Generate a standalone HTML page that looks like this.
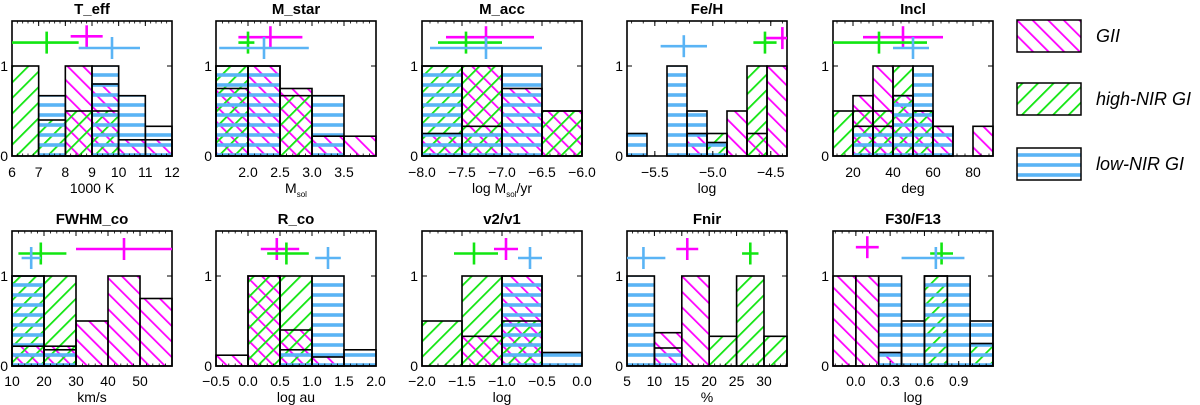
<!DOCTYPE html>
<html><head><meta charset="utf-8">
<style>
html,body{margin:0;padding:0;background:#fff;}
svg{display:block;}
text{font-family:"Liberation Sans",sans-serif;fill:#000;}
.t{font-size:15px;font-weight:bold;}
.k{font-size:14px;}
.lg{font-size:18px;font-style:italic;}
</style></head>
<body>
<svg id="chart" width="1200" height="405" viewBox="0 0 1200 405">
<defs>
<pattern id="pm" patternUnits="userSpaceOnUse" width="11" height="11" patternTransform="rotate(-45)">
<line x1="0" y1="0" x2="0" y2="11" stroke="#ff00ff" stroke-width="3.6"/></pattern>
<pattern id="pg" patternUnits="userSpaceOnUse" width="11" height="11" patternTransform="rotate(45)">
<line x1="0" y1="0" x2="0" y2="11" stroke="#11e611" stroke-width="3.6"/></pattern>
<pattern id="pb" patternUnits="userSpaceOnUse" width="10" height="10">
<line x1="0" y1="5" x2="10" y2="5" stroke="#5ab4f5" stroke-width="3.6"/></pattern>
</defs>
<g id="panels"></g>
<g>
<rect x="1017" y="20" width="64" height="32" fill="url(#pm)" stroke="#000" stroke-width="1.5"/>
<text class="lg" x="1096" y="42">GII</text>
<rect x="1017" y="83" width="64" height="32" fill="url(#pg)" stroke="#000" stroke-width="1.5"/>
<text class="lg" x="1096" y="105">high-NIR GI</text>
<rect x="1017" y="148" width="64" height="32" fill="url(#pb)" stroke="#000" stroke-width="1.5"/>
<text class="lg" x="1096" y="170">low-NIR GI</text>
</g>
</svg>
<script>
// panel order: teff, mstar, macc, feh, incl, fwhm, rco, v2v1, fnir, f30
const titles=["T_eff","M_star","M_acc","Fe/H","Incl","FWHM_co","R_co","v2/v1","Fnir","F30/F13"];
const xmins=[6,1.5,-8,-5.74,10,10,-0.5,-2,5,-0.2];
const xmaxs=[12,4,-6,-4.36,90,60,2,0,34.2,1.2];
const binStarts=[6,1.5,-8,-5.74,10,10,-0.5,-2,5,-0.2];
const binWidths=[1,0.5,0.5,0.1725,10,10,0.5,0.5,5,0.2];
const tickVals=[[6,7,8,9,10,11,12],[2,2.5,3,3.5],[-8,-7.5,-7,-6.5,-6],[-5.5,-5,-4.5],[20,40,60,80],[10,20,30,40,50],[-0.5,0,0.5,1,1.5,2],[-2,-1.5,-1,-0.5,0],[5,10,15,20,25,30],[0,0.3,0.6,0.9]];
const tickLabels=[["6","7","8","9","10","11","12"],["2.0","2.5","3.0","3.5"],["\u22128.0","\u22127.5","\u22127.0","\u22126.5","\u22126.0"],["\u22125.5","\u22125.0","\u22124.5"],["20","40","60","80"],["10","20","30","40","50"],["\u22120.5","0.0","0.5","1.0","1.5","2.0"],["\u22122.0","\u22121.5","\u22121.0","\u22120.5","0.0"],["5","10","15","20","25","30"],["0.0","0.3","0.6","0.9"]];
const xTitles=["1000 K","M|sol","log M|sol|/yr","log","deg","km/s","log au","log","%","log"];
// histogram heights (normalised)
const giiVals=[[0,0,1,0.8,0.18,0.18],[0.75,1,0.75,0.22,0.22],[0.25,1,0.75,0.5],[0,0,0,0.25,0,0.5,0.25,1],[0,0.67,1,0.67,0.5,0.33,0,0.33],[0.22,0.22,0.5,1,0.75],[0.12,1,0.4,0.1,0],[0,0.33,1,0],[0,0.37,1,0,0,0],[1,1,0.15,0,0,0,0]];
const highVals=[[1,0.4,0.5,0.5,0,0],[1,0,0.67,0,0],[1,1,0,0.5],[0,0,0,0,0.25,0,1,0],[0.5,0.5,0.5,1,0.5,0,0,0],[1,1,0,0,0],[0,1,1,0,0],[0.5,1,0.5,0],[0,0,0,0.33,1,0.33],[0,0,0,0,1,0,0.25]];
const lowVals=[[0,0.67,0,1,0.67,0.33],[1,1,0,0.67,0],[1,0.33,1,0],[0.25,0,1,0.5,0.15,0,0,0],[0,0.33,0.33,0.67,1,0.33,0,0],[1,0.18,0,0,0],[0,0,0.18,1,0.18],[0,0,1,0.15],[1,0.2,0,0,0,0],[0,0,1,0.5,1,1,0.5]];
// crosses: [center, low, high, level]
const giiCross=[[8.8,8.2,9.4,1.33],[2.35,1.85,2.85,1.32],[-7.2,-7.7,-6.6,1.32],[-4.4,-4.55,-4.25,1.31],[45,25,65,1.32],[45,30,60,1.3],[0.45,0.2,0.8,1.3],[-0.95,-1.1,-0.8,1.3],[16,14,18,1.3],[0.1,0,0.2,1.32]];
const highCross=[[7.3,6,8.5,1.26],[2.0,1.85,2.1,1.26],[-7.45,-7.8,-7.0,1.26],[-4.55,-4.65,-4.45,1.26],[33,10,57,1.26],[19,12,27,1.25],[0.6,0.3,0.95,1.25],[-1.35,-1.6,-1.05,1.25],[27.5,26,29,1.25],[0.75,0.65,0.85,1.25]];
const lowCross=[[9.75,8.5,10.8,1.2],[2.25,1.55,2.95,1.2],[-7.2,-7.9,-6.5,1.2],[-5.25,-5.45,-5.05,1.22],[50,40,58,1.2],[16,13,19,1.2],[1.25,1.05,1.45,1.2],[-0.65,-0.8,-0.5,1.2],[8,5,12,1.2],[0.7,0.4,0.95,1.2]];

const NS="http://www.w3.org/2000/svg";
const lefts=[12,216,422,627,833];
const W=160, UNIT=90, YMAX=1.5;
const root=document.getElementById('panels');
function mk(tag,attrs,parent){const e=document.createElementNS(NS,tag);for(const k in attrs)e.setAttribute(k,attrs[k]);parent.appendChild(e);return e;}
for(let p=0;p<10;p++){
  const L=lefts[p%5], y0=p<5?156:366, top=y0-YMAX*UNIT;
  const xs=v=>L+(v-xmins[p])/(xmaxs[p]-xmins[p])*W;
  const ys=v=>y0-v*UNIT;
  const g=mk('g',{},root);
  
  
  const t=mk('text',{x:L+W/2,y:top-7,'text-anchor':'middle',class:'t'},g);t.textContent=titles[p];
  
  
  const series=[[giiVals[p],'pm','gii'],[highVals[p],'pg','high-nir'],[lowVals[p],'pb','low-nir']];
  const outlines=[];
  series.forEach(([vals,pat,nm])=>{
    vals.forEach((v,i)=>{
      if(v<=0)return;
      let a=binStarts[p]+i*binWidths[p], b=a+binWidths[p];
      const x1=xs(Math.max(a,xmins[p])), x2=xs(Math.min(b,xmaxs[p]));
      const r=mk('rect',{x:x1,y:ys(v),width:x2-x1,height:y0-ys(v),fill:'url(#'+pat+')'},g);
      
      
      outlines.push([x1,x2,v]);
    });
  });
  outlines.forEach(([x1,x2,v])=>{
    const o=mk('rect',{x:x1,y:ys(v),width:x2-x1,height:y0-ys(v),fill:'none',stroke:'#000','stroke-width':1.6},g);
    
    
  });
  const fr=mk('rect',{x:L,y:top,width:W,height:y0-top,fill:'none',stroke:'#000','stroke-width':1.6},g);
  
  
  tickVals[p].forEach((tv,i)=>{
    const x=xs(tv);
    mk('line',{x1:x,y1:y0,x2:x,y2:y0-5,stroke:'#000','stroke-width':1},g);
    mk('line',{x1:x,y1:top,x2:x,y2:top+5,stroke:'#000','stroke-width':1},g);
    const tl=mk('text',{x:x,y:p<5?177:386,'text-anchor':'middle',class:'k'},g);tl.textContent=tickLabels[p][i];
    
    
  });
  const tv=tickVals[p], step=(tv[1]-tv[0])/5;
  for(let v=tv[0]-10*step; v<=xmaxs[p]; v+=step){
    if(v<xmins[p])continue;
    const x=xs(v);
    mk('line',{x1:x,y1:y0,x2:x,y2:y0-2.5,stroke:'#000','stroke-width':0.8},g);
    mk('line',{x1:x,y1:top,x2:x,y2:top+2.5,stroke:'#000','stroke-width':0.8},g);
  }
  [0,1].forEach(v=>{
    const y=ys(v);
    mk('line',{x1:L,y1:y,x2:L+5,y2:y,stroke:'#000','stroke-width':1},g);
    mk('line',{x1:L+W,y1:y,x2:L+W-5,y2:y,stroke:'#000','stroke-width':1},g);
    const yl=mk('text',{x:L-4,y:y+5,'text-anchor':'end',class:'k'},g);yl.textContent=String(v);
    
    
  });
  const xt=mk('text',{x:L+W/2,y:p<5?193:402,'text-anchor':'middle',class:'k'},g);
  
  
  xTitles[p].split('|').forEach((s,i)=>{
    const ts=mk('tspan',{},xt);ts.textContent=s;
    if(i%2===1){ts.setAttribute('font-size','8');ts.setAttribute('dy','4');}
    else if(i>0){ts.setAttribute('dy','-4');}
  });
  [[giiCross[p],'#ff00ff','gii'],[highCross[p],'#11e611','high-nir'],[lowCross[p],'#5ab4f5','low-nir']].forEach(([c,col,nm])=>{
    const cg=mk('g',{stroke:col,'stroke-width':2.6},g);
    
    
    const cy=ys(c[3]);
    mk('line',{x1:xs(Math.max(c[1],xmins[p])),y1:cy,x2:xs(Math.min(c[2],xmaxs[p])),y2:cy},cg);
    mk('line',{x1:xs(c[0]),y1:cy-11,x2:xs(c[0]),y2:cy+11},cg);
  });
}
</script>
</body></html>
